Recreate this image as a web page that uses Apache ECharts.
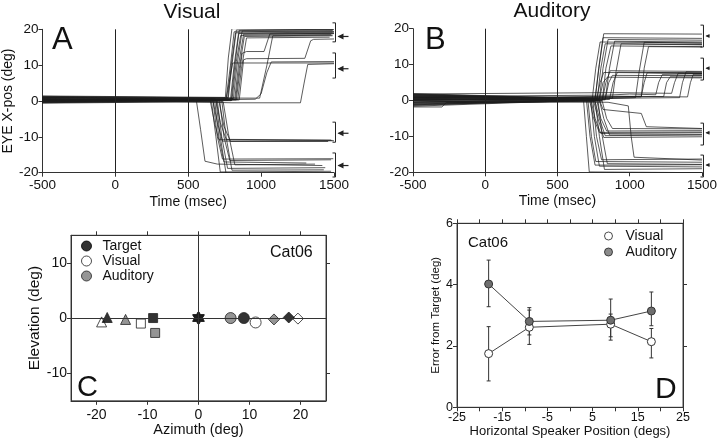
<!DOCTYPE html>
<html><head><meta charset="utf-8">
<script src="https://cdn.jsdelivr.net/npm/echarts@6/dist/echarts.min.js"></script>
<style>html,body{margin:0;padding:0;background:#fff}#c{width:720px;height:444px}</style>
</head><body><div id="c"></div>
<script>
// ---------- Panel A/B : eye position traces (key points) ----------
const timeTicks = [-500, 0, 500, 1000, 1500];
const eyeTicks = [-20, -10, 0, 10, 20];
const vlinesAB = [0, 500];
const tracesA = [
  [[-500,0.8],[760,0.6],[790,10],[815,19.3],[1490,19.6]],
  [[-500,1.2],[775,0.9],[800,10],[830,19.8],[1495,20]],
  [[-500,0.3],[790,0.4],[815,10],[845,18.8],[1490,19.0]],
  [[-500,-0.5],[800,0.2],[830,11],[860,18.3],[1480,18.5]],
  [[-500,1.0],[810,0.7],[835,10],[870,19.5],[1500,19.4]],
  [[-500,0.1],[825,0.5],[850,9],[885,18.0],[1490,18.2]],
  [[-500,0.6],[840,0.4],[865,9],[900,17.6],[1470,17.8]],
  [[-500,1.4],[755,1.0],[775,12],[800,20.2],[1500,20.0]],
  [[-500,0.5],[770,0.3],[795,10],[825,19.0],[1500,19.2]],
  [[-500,-0.1],[795,0.1],[820,10],[850,19.7],[1495,19.8]],
  [[-500,1.3],[820,0.8],[845,10],[880,18.6],[1500,18.8]],
  [[-500,0.2],[830,0.3],[870,13.3],[900,13.8],[1020,13.8],[1060,18.7],[1500,18.9]],
  [[-500,0.9],[990,0.8],[1040,10],[1080,18.2],[1490,18.4]],
  [[-500,-0.2],[850,0.3],[880,11.5],[900,11.8],[1300,11.9],[1340,16.8],[1360,17.2],[1500,17.3]],
  [[-500,0.4],[760,0.5],[785,6],[805,10.6],[1500,10.6]],
  [[-500,-0.3],[960,0.5],[1000,2],[1040,8],[1070,10.9],[1500,11.0]],
  [[-500,0.7],[800,-0.5],[1270,-0.5],[1295,5],[1320,10.2],[1500,10.4]],
  [[-500,0.5],[650,0.3],[680,-6],[710,-10.8],[1490,-11.0]],
  [[-500,-0.4],[670,0],[700,-6],[735,-11.2],[1500,-11.1]],
  [[-500,1.0],[690,0.5],[720,-6],[760,-10.7],[1480,-10.9]],
  [[-500,0.2],[710,0.1],[745,-7],[790,-11.3],[1460,-11.3]],
  [[-500,0.6],[555,0.4],[585,-8],[615,-16.8],[700,-17.6],[1420,-18.0]],
  [[-500,-0.6],[660,-0.2],[690,-10],[720,-19.8],[1480,-19.6]],
  [[-500,0.3],[670,0.2],[700,-10],[735,-16.2],[1495,-16.1]],
  [[-500,1.1],[680,0.6],[710,-10],[745,-17.0],[1310,-17.3]],
  [[-500,0.0],[690,0.3],[720,-10],[760,-20.3],[1490,-20.2]],
  [[-500,-0.2],[700,0],[730,-10],[770,-18.8],[1440,-18.6]],
  [[-500,0.9],[715,0.4],[745,-10],[785,-16.6],[1480,-16.4]],
  [[-500,0.4],[730,0.2],[760,-10],[800,-19.3],[1430,-19.2]],
  [[-500,-0.3],[740,-0.2],[775,-9],[820,-17.8],[1370,-17.6]]
];
const tracesB = [
  [[-500,1.5],[760,0.4],[790,10],[820,18.6],[1500,18.5]],
  [[-500,-1.0],[740,0.2],[765,9],[795,16.3],[1500,16.0]],
  [[-500,0.8],[775,0.3],[800,9],[830,15.8],[1500,15.5]],
  [[-500,1.9],[790,0.5],[815,9],[850,17.0],[1500,16.8]],
  [[-500,-0.4],[810,0.0],[835,9],[870,15.2],[1500,15.0]],
  [[-500,0.3],[830,0.2],[860,9],[895,16.5],[1500,16.3]],
  [[-500,1.2],[880,0.6],[905,8],[940,15.8],[1500,15.6]],
  [[-500,-1.4],[1040,0.8],[1065,8],[1100,16.2],[1500,16.0]],
  [[-500,0.6],[1080,1.0],[1100,9],[1130,15.0],[1500,14.9]],
  [[-500,1.7],[760,0.3],[785,9],[815,17.5],[1500,17.3]],
  [[-500,0.2],[770,0.2],[795,5],[820,7.8],[1500,7.6]],
  [[-500,1.4],[790,0.4],[815,5],[845,6.5],[1500,6.3]],
  [[-500,-0.8],[810,0.1],[835,5],[865,8.3],[1500,8.1]],
  [[-500,0.9],[830,0.3],[855,5],[880,7.0],[1500,6.9]],
  [[-500,-1.6],[860,0.3],[885,5],[915,7.9],[1500,7.7]],
  [[-500,0.9],[850,0.9],[1080,1.2],[1100,5],[1120,7.7],[1500,7.5]],
  [[-500,1.1],[850,1.5],[1000,1.8],[1180,1.6],[1200,5],[1225,7.2],[1500,7.0]],
  [[-500,0.0],[900,1.0],[1235,1.1],[1255,5],[1280,6.6],[1500,6.5]],
  [[-500,1.8],[880,2.2],[1290,2.0],[1310,5],[1335,7.6],[1500,7.5]],
  [[-500,-0.5],[840,0.6],[1345,0.8],[1365,5],[1390,8.0],[1500,7.9]],
  [[-500,0.5],[920,1.2],[1400,1.0],[1420,5],[1440,7.3],[1500,7.3]],
  [[-500,0.4],[730,0.3],[760,-5],[800,-9.2],[1500,-9.0]],
  [[-500,-1.2],[750,0],[780,-5],[820,-10.3],[1500,-10.1]],
  [[-500,1.6],[770,0.4],[800,-5],[840,-8.5],[1500,-8.4]],
  [[-500,0.1],[790,0.1],[820,-5],[860,-9.6],[1500,-9.5]],
  [[-500,-0.7],[810,-0.2],[840,-5],[880,-7.8],[1500,-7.9]],
  [[-500,0.9],[790,0.2],[815,-2.5],[1080,-3.6],[1115,-7.3],[1500,-7.8]],
  [[-500,-1.8],[-300,-1.8],[-270,-0.6],[760,-0.3],[790,-5],[830,-9.8],[1500,-9.6]],
  [[-500,1.3],[720,0.5],[750,-5],[790,-8.9],[1500,-8.8]],
  [[-500,-0.5],[680,0.2],[700,-10],[720,-19.9],[1500,-20.1]],
  [[-500,1.0],[710,0.3],[735,-10],[765,-17.0],[1500,-17.2]],
  [[-500,0.3],[730,0.2],[755,-10],[790,-18.3],[1500,-18.5]],
  [[-500,-1.1],[745,0],[770,-10],[805,-16.5],[1500,-16.3]],
  [[-500,1.8],[760,0.5],[790,-10],[825,-19.2],[1500,-19.0]],
  [[-500,0.6],[780,0.2],[810,-10],[845,-17.6],[1500,-17.8]],
  [[-500,-0.2],[850,-0.5],[990,-1.5],[1010,-10],[1030,-15.8],[1500,-16.6]],
  [[-500,0.0],[700,0.3],[725,-10],[760,-18.0],[1500,-17.9]]
];
// [target (arrow), bracket low, bracket high]
const bracketsA = [[18,16.5,21.8],[9,6.4,13.4],[-9,-11.5,-5.9],[-18,-21.2,-14.5]];
const bracketsB = [[18,14.9,21],[9,5.7,11.8],[-9,-12.4,-6.3],[-18,-21.3,-15.2]];

// ---------- Panel C : endpoints (azimuth, elevation) ----------
const cSymbols = ['triangle','rect','hexagram','circle','diamond'];
const cTarget   = [[-17.9,0.1],[-8.9,0],[0,0],[8.9,0],[17.7,0.1]];
const cVisual   = [[-19.0,-0.7],[-11.3,-1.0],[0,0],[11.2,-0.8],[19.5,-0.1]];
const cAuditory = [[-14.3,-0.25],[-8.5,-2.7],[0,0],[6.3,0],[14.8,-0.25]];
const cTicksX = [-20,-10,0,10,20];
const cTicksY = [-10,0,10];

// ---------- Panel D : error from target ----------
const dPos = [-18,-9,9,18];
const dLabelsX = [-25,-15,-5,5,15,25];
const dVisual = [1.75,2.61,2.71,2.14];
const dVisualLo = [0.86,2.05,2.19,1.61];
const dVisualHi = [2.63,3.17,3.04,2.57];
const dAuditory = [4.02,2.80,2.84,3.14];
const dAuditoryLo = [3.28,2.36,2.30,2.66];
const dAuditoryHi = [4.80,3.25,3.53,3.76];

const FONT = '"Liberation Sans", Arial, Helvetica, sans-serif';
const INK = '#111';
const HEX = 'path://M0,-10 L2.887,-5 L8.66,-5 L5.774,0 L8.66,5 L2.887,5 L0,10 L-2.887,5 L-8.66,5 L-5.774,0 L-8.66,-5 L-2.887,-5 Z';
const symbolMap = {hexagram: HEX};
const symSize = {triangle:10, rect:9, hexagram:13, circle:11, diamond:11};

const chart = echarts.init(document.getElementById('c'), null, {renderer:'canvas'});

function traceSeries(tr, i, ax, withLines) {
  const s = {type:'line', xAxisIndex:ax, yAxisIndex:ax, data:tr, showSymbol:false, symbol:'none',
    silent:true, animation:false, lineStyle:{color:'#1c1c1c', width:0.8, opacity:0.9}, z:2};
  if (withLines && i === 0) {
    s.markLine = {silent:true, symbol:'none', animation:false, label:{show:false},
      lineStyle:{color:'#222', width:1, type:'solid'}, data: vlinesAB.map(v => ({xAxis:v}))};
  }
  return s;
}
function bracketSeries(list, ax, arrowLen, head) {
  return {type:'custom', xAxisIndex:ax, yAxisIndex:ax, clip:false, silent:true, animation:false, z:5,
    data: list.map(b => [timeTicks[timeTicks.length-1], b[0], b[1], b[2]]),
    renderItem: (params, api) => {
      const pa = api.coord([api.value(0), api.value(1)]);
      const plo = api.coord([api.value(0), api.value(2)]);
      const phi = api.coord([api.value(0), api.value(3)]);
      const x = pa[0] + 1.5;
      const st = {stroke:'#222', lineWidth:1, fill:null};
      return {type:'group', children:[
        {type:'polyline', shape:{points:[[x-3,phi[1]],[x,phi[1]],[x,plo[1]],[x-3,plo[1]]]}, style:st},
        {type:'line', shape:{x1:x+3, y1:pa[1], x2:x+3+arrowLen, y2:pa[1]}, style:{stroke:'#222', lineWidth:1.2}},
        {type:'polygon', shape:{points:[[x+2,pa[1]],[x+2+head,pa[1]-head/2],[x+2+head,pa[1]+head/2]]}, style:{fill:'#222'}}
      ]};
    }};
}
function cSeries(name, pts, fill, z) {
  return {type:'scatter', name:name, xAxisIndex:2, yAxisIndex:2, animation:false, z:z,
    symbolKeepAspect:true,
    itemStyle:{color:fill, borderColor:'#222', borderWidth:1},
    data: pts.map((p, i) => ({value:p, symbol: symbolMap[cSymbols[i]] || cSymbols[i], symbolSize: symSize[cSymbols[i]]}))};
}
function errSeries(lo, hi) {
  return {type:'custom', xAxisIndex:4, yAxisIndex:4, silent:true, animation:false, z:3,
    data: dPos.map((x, i) => [x, lo[i], hi[i]]),
    renderItem: (params, api) => {
      const pl = api.coord([api.value(0), api.value(1)]);
      const ph = api.coord([api.value(0), api.value(2)]);
      const st = {stroke:'#333', lineWidth:1};
      return {type:'group', children:[
        {type:'line', shape:{x1:pl[0], y1:pl[1], x2:ph[0], y2:ph[1]}, style:st},
        {type:'line', shape:{x1:pl[0]-2, y1:pl[1], x2:pl[0]+2, y2:pl[1]}, style:st},
        {type:'line', shape:{x1:ph[0]-2, y1:ph[1], x2:ph[0]+2, y2:ph[1]}, style:st}
      ]};
    }};
}

const axLine = {show:true, onZero:false, lineStyle:{color:'#333', width:1}};
const tickOut = {show:true, inside:false, length:4, lineStyle:{color:'#333', width:1}};
const plain = v => String(v);
const lbl = (size, margin) => ({color:INK, fontSize:size, fontFamily:FONT, margin:margin, formatter:plain});

const series = [];
tracesA.forEach((tr, i) => series.push(traceSeries(tr, i, 0, true)));
tracesB.forEach((tr, i) => series.push(traceSeries(tr, i, 1, true)));
series.push(bracketSeries(bracketsA, 0, 10, 6));
series.push(bracketSeries(bracketsB, 1, 3, 4));
series.push({type:'line', xAxisIndex:2, yAxisIndex:2, data:[], silent:true, animation:false, z:1,
  markLine:{silent:true, symbol:'none', animation:false, label:{show:false},
    lineStyle:{color:'#333', width:1, type:'solid'}, data:[{xAxis:0},{yAxis:0}]}});
series.push(cSeries('Visual', cVisual, '#fff', 3));
series.push(cSeries('Auditory', cAuditory, '#7a7a7a', 3));
series.push(cSeries('Target', cTarget, '#000', 4));
series.push(errSeries(dVisualLo, dVisualHi));
series.push(errSeries(dAuditoryLo, dAuditoryHi));
series.push({type:'line', name:'Visual', xAxisIndex:4, yAxisIndex:4, animation:false, z:4,
  data: dPos.map((x, i) => [x, dVisual[i]]), symbol:'circle', symbolSize:8, showSymbol:true,
  lineStyle:{color:'#444', width:1}, itemStyle:{color:'#fff', borderColor:'#333', borderWidth:1}});
series.push({type:'line', name:'Auditory', xAxisIndex:4, yAxisIndex:4, animation:false, z:5,
  data: dPos.map((x, i) => [x, dAuditory[i]]), symbol:'circle', symbolSize:8, showSymbol:true,
  lineStyle:{color:'#444', width:1}, itemStyle:{color:'#6e6e6e', borderColor:'#333', borderWidth:1}});

const txt = (s, x, y, size, align) => ({type:'text', x:x, y:y, silent:true,
  style:{text:s, fill:INK, font: size + 'px ' + FONT, fontSize:size, fontFamily:FONT,
    textAlign:align||'left', align:align||'left', textVerticalAlign:'top', verticalAlign:'top'}});

const option = {
  animation:false,
  backgroundColor:'#fff',
  textStyle:{fontFamily:FONT, color:INK},
  grid:[
    {left:41, top:29.3, width:293, height:143.4},
    {left:413, top:28.7, width:294, height:143.6},
    {left:71, top:235.3, width:255, height:165.5, show:true, borderColor:'#444', borderWidth:1},
    {left:457, top:223.3, width:226, height:184, show:true, borderColor:'#444', borderWidth:1}
  ],
  xAxis:[
    {gridIndex:0, type:'value', min:-500, max:1500, interval:500, axisLine:axLine, axisTick:tickOut,
      axisLabel:lbl(13.5,6), splitLine:{show:false},
      name:'Time (msec)', nameLocation:'middle', nameGap:22, nameTextStyle:{fontSize:14, color:INK, fontFamily:FONT}},
    {gridIndex:1, type:'value', min:-500, max:1500, interval:500, axisLine:axLine, axisTick:tickOut,
      axisLabel:lbl(13.5,6), splitLine:{show:false},
      name:'Time (msec)', nameLocation:'middle', nameGap:22, nameTextStyle:{fontSize:14, color:INK, fontFamily:FONT}},
    {gridIndex:2, type:'value', min:-25, max:25, axisLine:axLine,
      axisTick:Object.assign({}, tickOut, {customValues:cTicksX}),
      axisLabel:Object.assign(lbl(14,7), {customValues:cTicksX}), splitLine:{show:false},
      name:'Azimuth (deg)', nameLocation:'middle', nameGap:22, nameTextStyle:{fontSize:14.5, color:INK, fontFamily:FONT}},
    {gridIndex:2, type:'value', position:'top', min:-25, max:25, axisLine:axLine,
      axisTick:Object.assign({}, tickOut, {customValues:cTicksX}),
      axisLabel:{show:false}, splitLine:{show:false}},
    {gridIndex:3, type:'value', min:-25, max:25, interval:5, axisLine:axLine, axisTick:tickOut,
      axisLabel:Object.assign(lbl(12.5,4), {customValues:dLabelsX}), splitLine:{show:false},
      name:'Horizontal Speaker Position (degs)', nameLocation:'middle', nameGap:16, nameTextStyle:{fontSize:13, color:INK, fontFamily:FONT}},
    {gridIndex:3, type:'value', position:'top', min:-25, max:25, interval:5, axisLine:axLine, axisTick:tickOut,
      axisLabel:{show:false}, splitLine:{show:false}}
  ],
  yAxis:[
    {gridIndex:0, type:'value', min:-20, max:20, interval:10, axisLine:axLine, axisTick:tickOut,
      axisLabel:lbl(13.5,4), splitLine:{show:false},
      name:'EYE X-pos (deg)', nameLocation:'middle', nameGap:24, nameTextStyle:{fontSize:14, color:INK, fontFamily:FONT}},
    {gridIndex:1, type:'value', min:-20, max:20, interval:10, axisLine:axLine, axisTick:tickOut,
      axisLabel:lbl(13.5,4), splitLine:{show:false}},
    {gridIndex:2, type:'value', min:-15, max:15, axisLine:axLine,
      axisTick:Object.assign({}, tickOut, {customValues:cTicksY}),
      axisLabel:Object.assign(lbl(14,4), {customValues:cTicksY}), splitLine:{show:false},
      name:'Elevation (deg)', nameLocation:'middle', nameGap:21, nameTextStyle:{fontSize:15.5, color:INK, fontFamily:FONT}},
    {gridIndex:2, type:'value', position:'right', min:-15, max:15, axisLine:axLine,
      axisTick:Object.assign({}, tickOut, {customValues:[-10,10]}),
      axisLabel:{show:false}, splitLine:{show:false}},
    {gridIndex:3, type:'value', min:0, max:6, interval:2, axisLine:axLine, axisTick:tickOut,
      axisLabel:lbl(12.5,4), splitLine:{show:false},
      name:'Error from Target (deg)', nameLocation:'middle', nameGap:15, nameTextStyle:{fontSize:11.5, color:INK, fontFamily:FONT}},
    {gridIndex:3, type:'value', position:'right', min:0, max:6, interval:2, axisLine:axLine,
      axisTick:Object.assign({}, tickOut, {customValues:[2,4]}),
      axisLabel:{show:false}, splitLine:{show:false}}
  ],
  legend:[
    {left:81, top:239, orient:'vertical', itemWidth:10, itemHeight:10, itemGap:1, padding:0,
      selectedMode:false, textStyle:{fontSize:14, color:INK, fontFamily:FONT, padding:[0,0,0,6]},
      data:[
        {name:'Target', icon:'circle', itemStyle:{color:'#000', borderColor:'#000', borderWidth:1}},
        {name:'Visual', icon:'circle', itemStyle:{color:'#fff', borderColor:'#222', borderWidth:1}},
        {name:'Auditory', icon:'circle', itemStyle:{color:'#7a7a7a', borderColor:'#222', borderWidth:1}}
      ]},
    {left:604, top:229, orient:'vertical', itemWidth:8, itemHeight:8, itemGap:2, padding:0,
      selectedMode:false, textStyle:{fontSize:14, color:INK, fontFamily:FONT, padding:[0,0,0,8]},
      data:[
        {name:'Visual', icon:'circle', itemStyle:{color:'#fff', borderColor:'#222', borderWidth:1}},
        {name:'Auditory', icon:'circle', itemStyle:{color:'#6e6e6e', borderColor:'#222', borderWidth:1}}
      ]}
  ],
  graphic:[
    txt('Visual', 192, 2, 21, 'center'),
    txt('Auditory', 552, 1, 21, 'center'),
    txt('A', 52, 25, 31),
    txt('B', 425, 25, 31),
    txt('C', 77, 373, 29),
    txt('D', 655, 375, 30),
    txt('Cat06', 270, 245, 16),
    txt('Cat06', 468, 235, 15)
  ],
  series: series
};
chart.setOption(option);
</script></body></html>
